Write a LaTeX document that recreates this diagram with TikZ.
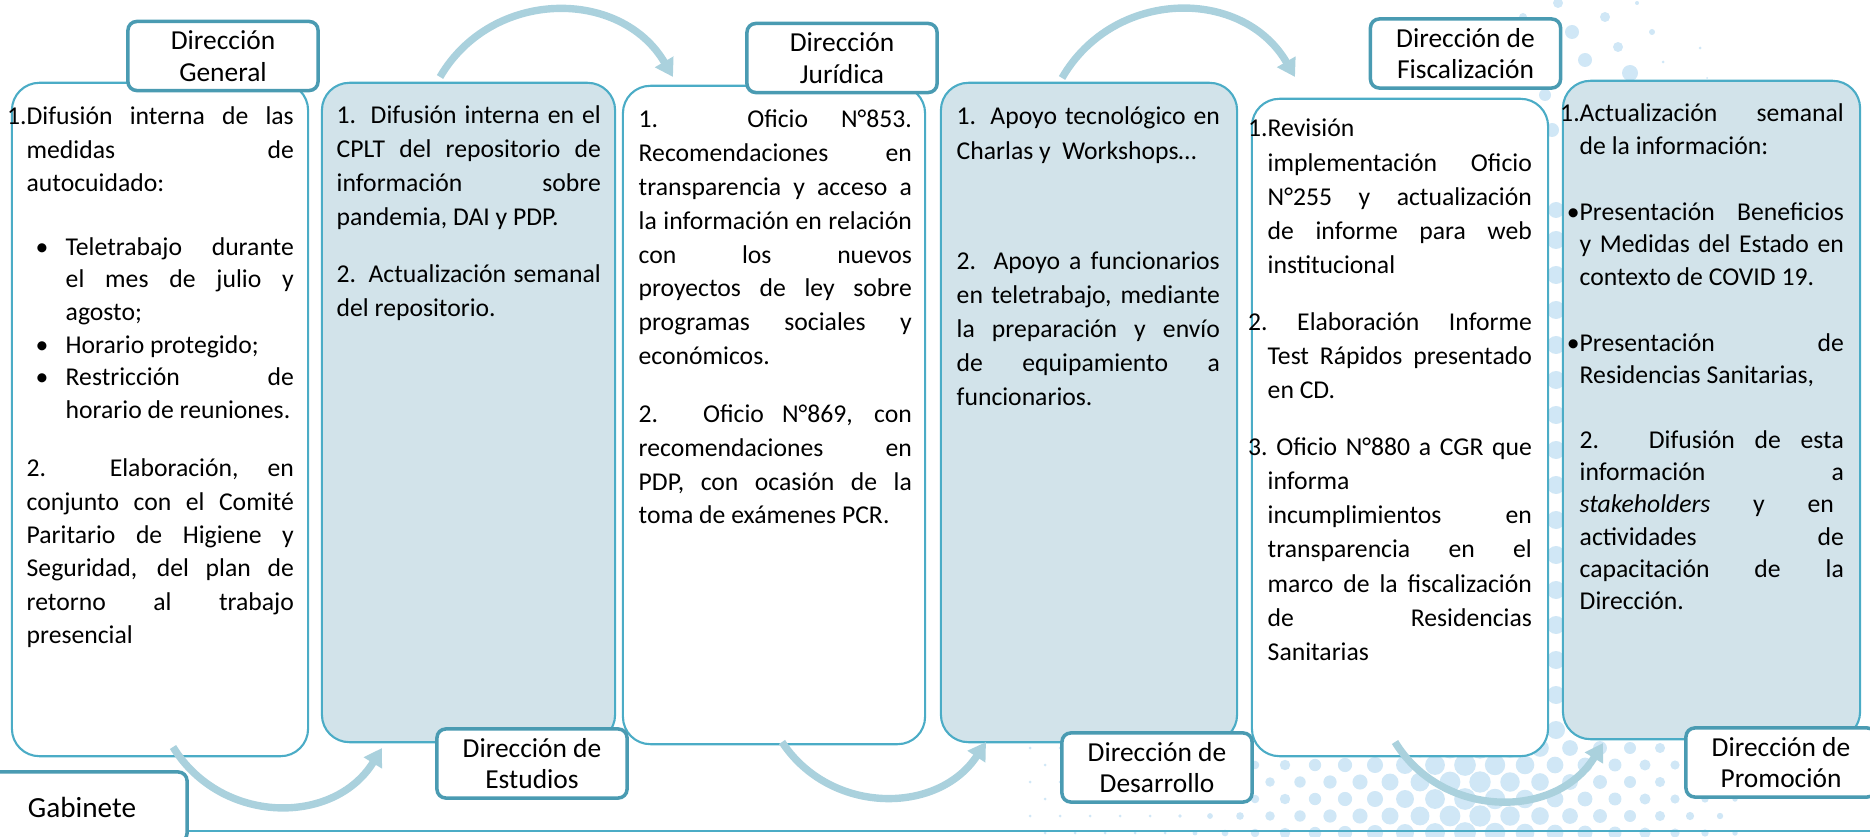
\documentclass[tikz,border=0pt]{standalone}
\usepackage{fontspec}
\setmainfont{Carlito}
\usepackage{xcolor}
\usetikzlibrary{arrows.meta}
\definecolor{boxline}{RGB}{75,172,198}
\definecolor{tabline}{RGB}{74,155,178}
\definecolor{panelblue}{RGB}{210,227,234}
\definecolor{flowblue}{RGB}{170,209,221}
\definecolor{dotblue}{RGB}{208,231,246}
\setlength{\parindent}{0pt}
\newcommand{\pgap}[1][7pt]{\par\vspace{#1}}
\newcommand{\hangnum}[1]{\leavevmode\llap{#1}}
\newcommand{\itembul}{\leavevmode\llap{\makebox[0.3cm][l]{\textbullet}}}
\tikzset{
panel/.style = { rectangle, draw = boxline, line width = 0.6pt, rounded corners = 7.8pt, inner sep = 0pt },
white panel/.style = { panel, fill = white },
blue panel/.style = { panel, fill = panelblue },
tab/.style = { rectangle, draw = tabline, line width = 1pt, fill = white, rounded corners = 2.5pt, minimum width = 1.9cm, minimum height = 0.69cm, inner sep = 0pt, align = center, font = \fontsize{7.8}{9}\selectfont },
body/.style = { inner sep = 0pt, anchor = base west, text width = 2.64cm, align = justify, font = \fontsize{7.3}{9.5}\selectfont },
flow/.style = { draw = flowblue, line width = 2.1pt, -{Triangle[width = 5.8pt, length = 5pt]} },
rule/.style = { draw = boxline, line width = 0.8pt },
}
\begin{document}
\begin{tikzpicture}[x = 0.01cm, y = -0.01cm]
    \useasboundingbox (0, 0) rectangle (1870, 837);
    % background dots
    \foreach \j in {0,...,5} {
        \foreach \i in {0,...,23} {
            \pgfmathsetmacro\dx{1030 + 30*\i + 15*mod(\j,2)}
            \pgfmathsetmacro\dr{max(1.5, 11 - abs(\dx - 1470)/32)}
            \fill[dotblue] (\dx, 748 + 17*\j) circle[radius = \dr];
        }
    }
    \foreach \px/\py/\pr in {1558/3/5, 1523/17/4, 1572/32/7, 1605/17/5, 1652/32/3, 1618/47/5, 1585/60/7, 1630/73/8, 1700/48/1.5, 1663/62/1.5, 1707/78/1, 1637/3/2, 1545/95/6, 1552/130/7, 1540/170/6, 1556/210/8} {
        \fill[dotblue] (\px, \py) circle[radius = \pr];
    }
    \foreach \py in {240, 275, ..., 730} {
        \fill[dotblue] (1556, \py) circle[radius = 9];
    }
    % panels
    \node[white panel, minimum width = 2.96cm, minimum height = 6.73cm] (b1) at (160, 419.5) {};
    \node[blue panel, minimum width = 2.93cm, minimum height = 6.59cm] (b2) at (468.5, 412.5) {};
    \node[white panel, minimum width = 3.02cm, minimum height = 6.58cm] (b3) at (774, 415) {};
    \node[blue panel, minimum width = 2.96cm, minimum height = 6.59cm] (b4) at (1089, 412.5) {};
    \node[white panel, minimum width = 2.96cm, minimum height = 6.57cm] (b5) at (1400, 427.5) {};
    \node[blue panel, minimum width = 2.97cm, minimum height = 6.58cm] (b6) at (1711.5, 410) {};
    % texts
    \node[body, text width = 2.67cm] (x1) at (26, 125) {\hangnum{1.}Difusión interna de las\linebreak medidas de\linebreak autocuidado:\pgap[8.7pt]
        {\leftskip = 0.39cm \fontsize{7.3}{9.3}\selectfont
        \itembul Teletrabajo durante\linebreak el mes de julio y\linebreak agosto;\par
        \itembul Horario protegido;\par
        \itembul Restricción de\linebreak horario de reuniones.\par}
        \pgap 2. Elaboración, en\linebreak conjunto con el Comité\linebreak Paritario de Higiene y\linebreak Seguridad, del plan de\linebreak retorno al trabajo\linebreak presencial};
    \node[body, font = \fontsize{7.3}{9.6}\selectfont] (x2) at (336, 124) {1. Difusión interna en el\linebreak CPLT del repositorio de\linebreak información sobre\linebreak pandemia, DAI y PDP.\pgap[6.6pt]
        2. Actualización semanal\linebreak del repositorio.};
    \node[body, text width = 2.73cm, font = \fontsize{7.3}{9.6}\selectfont] (x3) at (638, 128) {1. Oficio N°853.\linebreak Recomendaciones en\linebreak transparencia y acceso a\linebreak la información en relación\linebreak con los nuevos\linebreak proyectos de ley sobre\linebreak programas sociales y\linebreak económicos.\pgap
        2. Oficio N°869, con\linebreak recomendaciones en\linebreak PDP, con ocasión de la\linebreak toma de exámenes PCR.};
    \node[body, text width = 2.63cm, font = \fontsize{7.3}{9.7}\selectfont] (x4) at (956, 125) {1. Apoyo tecnológico en\linebreak Charlas y~ Workshops…\pgap[21.6pt]
        2. Apoyo a funcionarios\linebreak en teletrabajo, mediante\linebreak la preparación y envío\linebreak de equipamiento a\linebreak funcionarios.};
    \node[body, font = \fontsize{7.3}{9.7}\selectfont] (x5) at (1267, 137) {\hangnum{1.}Revisión\linebreak implementación Oficio\linebreak N°255 y actualización\linebreak de informe para web\linebreak institucional\pgap[6.5pt]
        \hangnum{2.} Elaboración Informe\linebreak Test Rápidos presentado\linebreak en CD.\pgap[6.5pt]
        \hangnum{3.} Oficio N°880 a CGR que\linebreak informa\linebreak incumplimientos en\linebreak transparencia en el\linebreak marco de la fiscalización\linebreak de Residencias\linebreak Sanitarias};
    \node[body, font = \fontsize{7.3}{9.15}\selectfont] (x6) at (1579, 122) {\hangnum{1.}Actualización semanal\linebreak de la información:\pgap[9.8pt]
        \hangnum{\textbullet}Presentación Beneficios\linebreak y Medidas del Estado en\linebreak contexto de COVID 19.\pgap[9.6pt]
        \hangnum{\textbullet}Presentación de\linebreak Residencias Sanitarias,\pgap[9.4pt]
        2. Difusión de esta\linebreak información a\linebreak \textit{stakeholders} y en\hspace*{0.1cm}\linebreak actividades de\linebreak capacitación de la\linebreak Dirección.};
    % tabs
    \node[tab] (gen) at (223, 56) {Dirección\\General};
    \node[tab] (jur) at (842, 58) {Dirección\\Jurídica};
    \node[tab] (fis) at (1465.5, 53.5) {Dirección de\\Fiscalización};
    \node[tab] (est) at (532, 763.5) {Dirección de\\Estudios};
    \node[tab] (des) at (1157, 767.5) {Dirección de\\Desarrollo};
    \node[tab] (pro) at (1781, 762.5) {Dirección de\\Promoción};
    \node[tab, minimum width = 2.1cm, minimum height = 0.7cm, font = \fontsize{8.3}{9}\selectfont] (gab) at (82, 807) {Gabinete};
    \coordinate (rim) at (1880, 831);
    \draw[rule] (gab.east |- rim) -- (rim);
    % arrows
    \coordinate (s1) at (173, 747);
    \coordinate (e1) at (382, 748);
    \coordinate (s2) at (440, 77);
    \coordinate (e2) at (673, 77);
    \coordinate (s3) at (782, 742);
    \coordinate (e3) at (986, 742);
    \coordinate (s4) at (1062, 78);
    \coordinate (e4) at (1295, 77);
    \coordinate (s5) at (1395, 742);
    \coordinate (e5) at (1603, 743);
    \draw[flow] (s1) .. controls +(48, 78) and +(-48, 78) .. (e1);
    \draw[flow] (s2) .. controls +(52, -89) and +(-52, -89) .. (e2);
    \draw[flow] (s3) .. controls +(48, 73) and +(-48, 73) .. (e3);
    \draw[flow] (s4) .. controls +(52, -90) and +(-52, -90) .. (e4);
    \draw[flow] (s5) .. controls +(47, 77) and +(-47, 77) .. (e5);
\end{tikzpicture}
\end{document}
